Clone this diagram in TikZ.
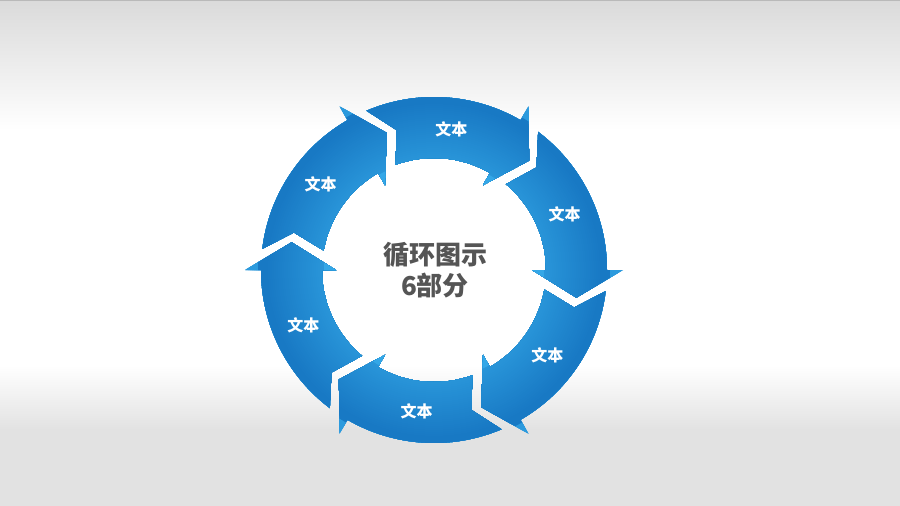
\documentclass[tikz,border=0pt]{standalone}
\usepackage{fontspec}
\newfontfamily\cjk{Noto Sans CJK SC}
\usetikzlibrary{calc}
\definecolor{bgtop}{HTML}{DADADA}
\definecolor{bgbot}{HTML}{E2E2E2}
\definecolor{ringlight}{HTML}{3EB8F4}
\definecolor{ringdark}{HTML}{1574C0}
\definecolor{hubgray}{HTML}{555555}
\tikzset{
  segtext/.style={text=white, font=\cjk\bfseries\fontsize{16}{16}\selectfont},
  hubtext/.style={text=hubgray, align=center, font=\cjk\bfseries\fontsize{26}{31}\selectfont}
}

\begin{document}
\begin{tikzpicture}[x=1pt,y=1pt]
  \useasboundingbox (0,0) rectangle (900,-506);
  \fill[white] (0,0) rectangle (900,-506);
  \shade[top color=bgtop, bottom color=white] (0,0) rectangle (900,-130);
  \shade[top color=white, bottom color=bgbot] (0,-365) rectangle (900,-430);
  \fill[bgbot] (0,-430) rectangle (900,-506);
  \draw[bgtop!85!black, line width=1pt] (0,-0.5) -- (900,-0.5);
  \begin{scope}[shift={(434,-270)}]
    \foreach \b [count=\i] in {60,0,-60,-120,-180,-240} {
      \begin{scope}
        \clip (\b+53:173) arc[start angle=\b+53, end angle=\b, radius=173]
          -- (\b:189) -- (\b-11:145) -- (\b:98) -- (\b:112)
          arc[start angle=\b, end angle=\b+50, radius=112] -- (\b+45:145) -- cycle;
        % bands from outside in
        \foreach \r in {192,190,...,96} {
          \pgfmathsetmacro\p{\r>=177 ? 45 : (\r<112 ? 25 : min(92,52+40*(\r-112)/56))}
          \fill[ringdark!\p!ringlight] (0,0) circle (\r);
        }
      \end{scope}
      \node[segtext] (seg\i) at (\b+23:142) {文本};
    }
    \node[hubtext] (hub) at (1,0) {循环图示\\6部分};
  \end{scope}
\end{tikzpicture}
\end{document}
